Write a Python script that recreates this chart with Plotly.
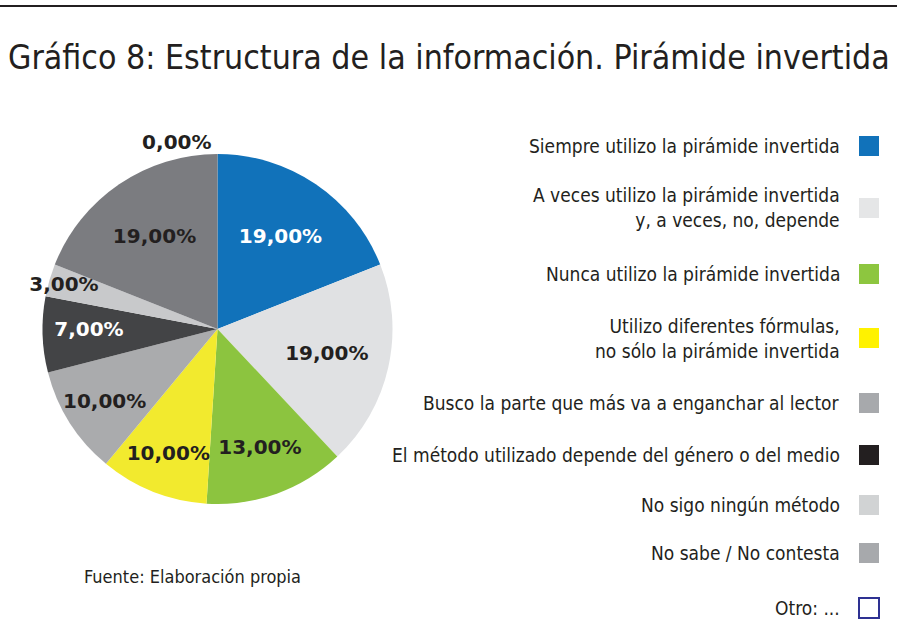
import plotly.graph_objects as go

# ---- data ----
categories = [
    "Siempre utilizo la pirámide invertida",
    "A veces utilizo la pirámide invertida<br>y, a veces, no, depende",
    "Nunca utilizo la pirámide invertida",
    "Utilizo diferentes fórmulas,<br>no sólo la pirámide invertida",
    "Busco la parte que más va a enganchar al lector",
    "El método utilizado depende del género o del medio",
    "No sigo ningún método",
    "No sabe / No contesta",
    "Otro: ...",
]
values = [19, 19, 13, 10, 10, 7, 3, 19, 0]

# ---- style ----
pie_colors = ["#1172BA", "#E0E1E3", "#8CC43F", "#F2EA2E", "#AAABAD",
              "#434446", "#C8C9CB", "#7B7C80", "#FFFFFF"]
legend_colors = ["#1172BA", "#E5E6E7", "#8DC63F", "#FFF200", "#A7A9AC",
                 "#231F20", "#D1D3D4", "#A7A9AC", "#FFFFFF"]
label_colors = ["#FFFFFF", "#231F20", "#231F20", "#231F20", "#231F20",
                "#FFFFFF", "#231F20", "#231F20", "#231F20"]
text_pos = ["inside"] * 8 + ["outside"]
FONT = "DejaVu Sans Condensed, Liberation Sans Narrow, Arial Narrow, sans-serif"
LABEL_FONT = "DejaVu Sans, sans-serif"
W, H = 897, 634

labels_txt = ["<b>" + f"{v:.2f}%".replace(".", ",") + "</b>" for v in values]

fig = go.Figure(go.Pie(
    labels=categories,
    values=values,
    text=labels_txt,
    textinfo="text",
    textposition=text_pos,
    insidetextorientation="horizontal",
    sort=False,
    direction="clockwise",
    rotation=0,
    marker=dict(colors=pie_colors, line=dict(width=0)),
    textfont=dict(family=LABEL_FONT, size=20, color=label_colors),
    outsidetextfont=dict(family=LABEL_FONT, size=20, color="#231F20"),
    showlegend=False,
    automargin=False,
    domain=dict(x=[42.5 / W, 392.5 / W], y=[(H - 504) / H, (H - 154) / H]),
    hoverinfo="label+percent",
))

annotations = []
shapes = []

# top rule
shapes.append(dict(type="line", xref="paper", yref="paper", x0=0, x1=1,
                   y0=(H - 6) / H, y1=(H - 6) / H,
                   line=dict(color="#231F20", width=2)))

# custom legend (text left of square)
legend_y = [146, 208, 274, 338, 403, 455, 505, 553, 608]
for cat, yy in zip(categories, legend_y):
    annotations.append(dict(
        text=cat, xref="paper", yref="paper", x=842 / W, y=(H - yy) / H,
        xanchor="right", yanchor="middle", align="right", showarrow=False,
        font=dict(family=FONT, size=19, color="#231F20")))
for col, yy, cat in zip(legend_colors, legend_y, categories):
    if cat.startswith("Otro"):
        line = dict(color="#2E3192", width=2)
    else:
        line = dict(width=0)
    shapes.append(dict(type="rect", xref="paper", yref="paper",
                       x0=859 / W, x1=879 / W,
                       y0=(H - yy - 10) / H, y1=(H - yy + 10) / H,
                       fillcolor=col, line=line))

# source
annotations.append(dict(
    text="Fuente: Elaboración propia", xref="paper", yref="paper",
    x=82 / W, y=(H - 576) / H, xanchor="left", yanchor="middle",
    showarrow=False, font=dict(family=FONT, size=18, color="#231F20")))

fig.update_layout(
    width=W, height=H,
    margin=dict(l=0, r=0, t=0, b=0),
    paper_bgcolor="white",
    plot_bgcolor="white",
    title=dict(text="Gráfico 8: Estructura de la información. Pirámide invertida",
               x=8 / W, xanchor="left", y=(H - 57) / H, yanchor="middle",
               font=dict(family=FONT, size=33.6, color="#231F20")),
    annotations=annotations,
    shapes=shapes,
    uniformtext=dict(minsize=20, mode="show"),
)

fig.write_html("out.html",
               config={"displayModeBar": False},
               post_script="document.body.style.margin='0';document.body.style.padding='0';")
